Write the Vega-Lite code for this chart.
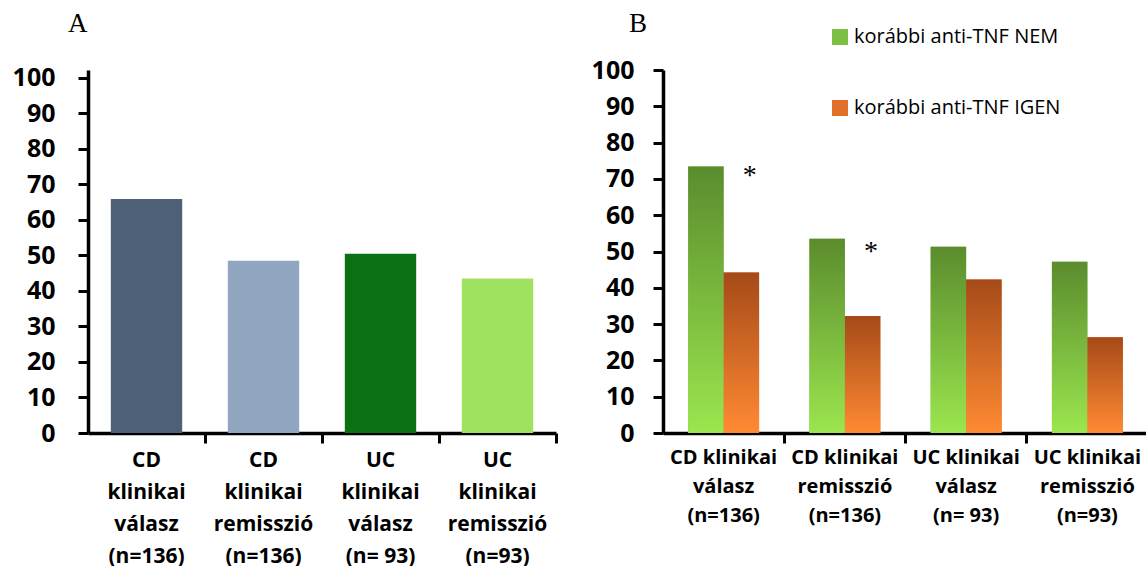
{
  "$schema": "https://vega.github.io/schema/vega-lite/v6.json",
  "padding": {"left": 12, "top": 9, "right": 0, "bottom": 0},
  "background": "white",
  "spacing": 33,
  "resolve": {"scale": {"x": "independent", "y": "independent", "color": "independent", "xOffset": "independent"}, "axis": {"x": "independent", "y": "independent"}, "legend": {"color": "independent"}},
  "config": {
    "view": {"stroke": null},
    "axis": {
      "domainColor": "black", "domainWidth": 3.5, "tickColor": "black", "tickWidth": 3, "tickSize": 10,
      "grid": false, "labelColor": "black", "labelFont": "Open Sans", "labelFontWeight": "bold", "title": null
    },
    "title": {"font": "Liberation Serif", "fontSize": 27, "fontWeight": "normal", "anchor": "start", "frame": "group", "color": "black"}
  },
  "datasets": {
    "panelA": [
      {"group": "CD|klinikai|válasz|(n=136)", "value": 65.9},
      {"group": "CD|klinikai|remisszió|(n=136)", "value": 48.5},
      {"group": "UC|klinikai|válasz|(n= 93)", "value": 50.5},
      {"group": "UC|klinikai|remisszió|(n=93)", "value": 43.5}
    ],
    "panelB": [
      {"group": "CD klinikai|válasz|(n=136)", "series": "korábbi anti-TNF NEM", "value": 73.4},
      {"group": "CD klinikai|válasz|(n=136)", "series": "korábbi anti-TNF IGEN", "value": 44.2},
      {"group": "CD klinikai|remisszió|(n=136)", "series": "korábbi anti-TNF NEM", "value": 53.5},
      {"group": "CD klinikai|remisszió|(n=136)", "series": "korábbi anti-TNF IGEN", "value": 32.2},
      {"group": "UC klinikai|válasz|(n= 93)", "series": "korábbi anti-TNF NEM", "value": 51.3},
      {"group": "UC klinikai|válasz|(n= 93)", "series": "korábbi anti-TNF IGEN", "value": 42.3},
      {"group": "UC klinikai|remisszió|(n=93)", "series": "korábbi anti-TNF NEM", "value": 47.2},
      {"group": "UC klinikai|remisszió|(n=93)", "series": "korábbi anti-TNF IGEN", "value": 26.4}
    ],
    "stars": [
      {"group": "CD klinikai|válasz|(n=136)", "y": 68.6, "label": "*"},
      {"group": "CD klinikai|remisszió|(n=136)", "y": 47.7, "label": "*"}
    ]
  },
  "hconcat": [
    {
      "width": 468,
      "height": 363,
      "title": {"text": "A", "dx": -20, "offset": 7, "baseline": "alphabetic"},
      "data": {"name": "panelA"},
      "mark": {"type": "bar"},
      "encoding": {
        "x": {
          "field": "group", "type": "nominal", "sort": null,
          "scale": {"paddingInner": 0.39, "paddingOuter": 0.195},
          "axis": {"labelAngle": 0, "labelExpr": "split(datum.label, '|')", "labelFontSize": 21, "labelLineHeight": 32, "labelPadding": 6, "bandPosition": 1.32, "labelBaseline": "top"}
        },
        "y": {
          "field": "value", "type": "quantitative",
          "scale": {"domain": [0, 102.25], "nice": false},
          "axis": {"values": [0, 10, 20, 30, 40, 50, 60, 70, 80, 90, 100], "labelFontSize": 25, "labelPadding": 23}
        },
        "color": {
          "field": "group", "type": "nominal", "sort": null,
          "scale": {"range": ["#4e5f78", "#91a6c0", "#0b6f14", "#9fe25f"]},
          "legend": null
        }
      }
    },
    {
      "width": 485,
      "height": 363,
      "title": {"text": "B", "dx": -34, "offset": -32, "baseline": "alphabetic"},
      "data": {"name": "panelB"},
      "encoding": {
        "x": {
          "field": "group", "type": "nominal",
          "scale": {"domain": ["CD klinikai|válasz|(n=136)", "CD klinikai|remisszió|(n=136)", "UC klinikai|válasz|(n= 93)", "UC klinikai|remisszió|(n=93)"], "paddingInner": 0.415, "paddingOuter": 0.2075},
          "axis": {"labelAngle": 0, "labelExpr": "split(datum.label, '|')", "labelFontSize": 20, "labelLineHeight": 29, "labelPadding": 4, "bandPosition": 1.355, "labelBaseline": "top"}
        },
        "y": {
          "field": "value", "type": "quantitative",
          "scale": {"domain": [0, 100], "nice": false},
          "axis": {"values": [0, 10, 20, 30, 40, 50, 60, 70, 80, 90, 100], "labelFontSize": 25, "labelPadding": 19}
        }
      },
      "layer": [
        {
          "mark": {"type": "bar"},
          "encoding": {
            "xOffset": {
              "field": "series", "type": "nominal",
              "scale": {"domain": ["korábbi anti-TNF NEM", "korábbi anti-TNF IGEN"], "paddingInner": 0, "paddingOuter": 0}
            },
            "color": {
              "field": "series", "type": "nominal",
              "scale": {"domain": ["korábbi anti-TNF NEM", "korábbi anti-TNF IGEN"], "range": ["#7cc043", "#e0702a"]},
              "legend": {
                "title": null, "orient": "none", "legendX": 167, "legendY": -43, "padding": 0,
                "rowPadding": 51, "symbolType": "square", "symbolSize": 256, "symbolStrokeWidth": 0,
                "labelFont": "Open Sans", "labelFontSize": 20, "labelColor": "black", "labelOffset": 4, "labelLimit": 400
              }
            }
          }
        },
        {
          "mark": {"type": "bar"},
          "encoding": {
            "xOffset": {"field": "series", "type": "nominal"},
            "color": {
              "condition": {
                "test": "datum.series === 'korábbi anti-TNF NEM'",
                "value": {"gradient": "linear", "x1": 0, "y1": 0, "x2": 0, "y2": 1, "stops": [{"offset": 0, "color": "#5b8c2e"}, {"offset": 1, "color": "#9be64e"}]}
              },
              "value": {"gradient": "linear", "x1": 0, "y1": 0, "x2": 0, "y2": 1, "stops": [{"offset": 0, "color": "#a54a18"}, {"offset": 1, "color": "#ff8a33"}]}
            }
          }
        },
        {
          "data": {"name": "stars"},
          "mark": {"type": "text", "font": "Liberation Serif", "fontSize": 28, "dx": 26, "baseline": "alphabetic", "color": "black"},
          "encoding": {
            "y": {"field": "y", "type": "quantitative"},
            "text": {"field": "label"}
          }
        }
      ]
    }
  ]
}
